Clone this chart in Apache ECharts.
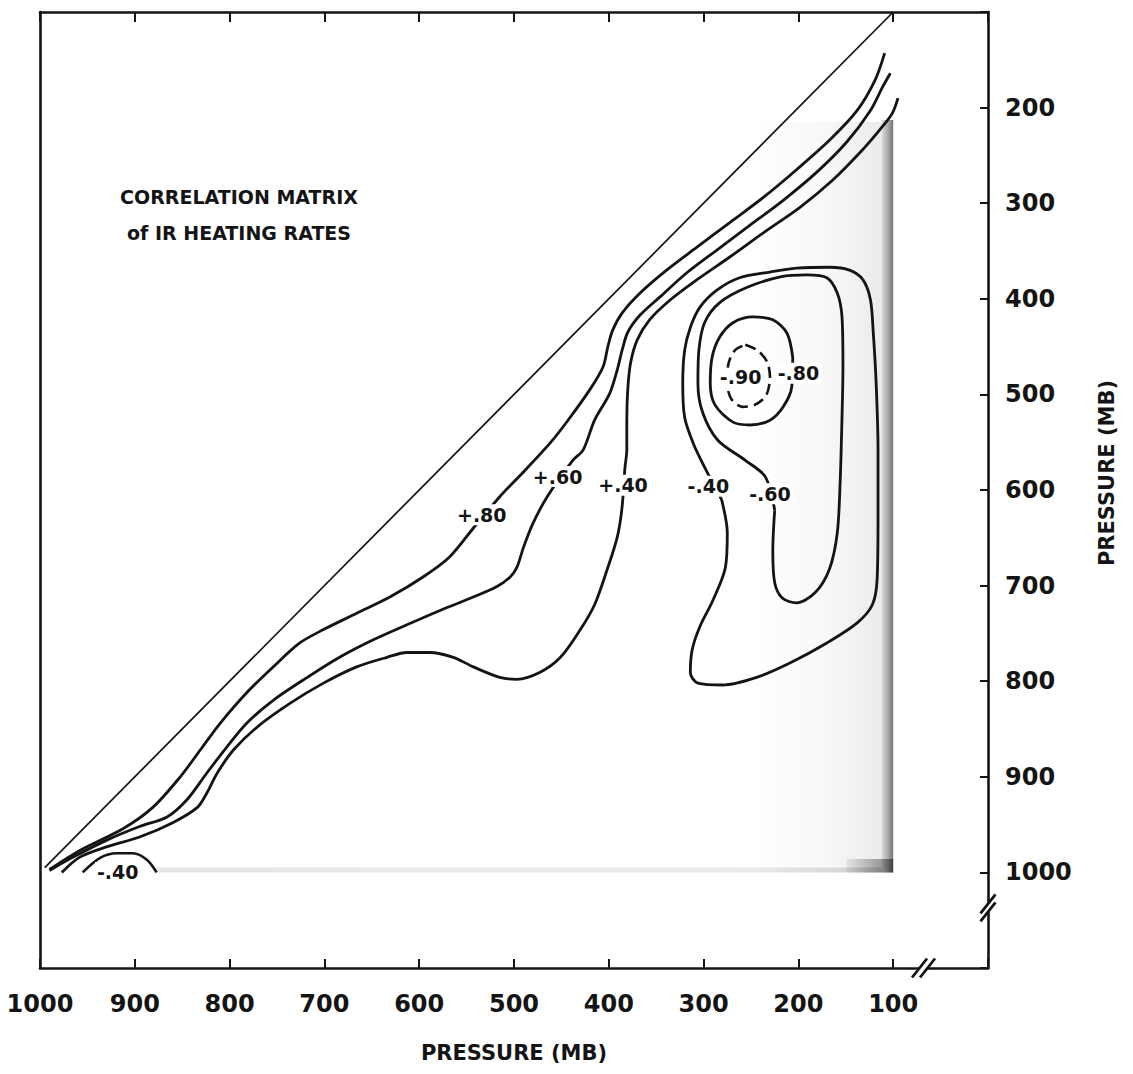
<!DOCTYPE html>
<html>
<head>
<meta charset="utf-8">
<script src="https://cdn.jsdelivr.net/npm/echarts/dist/echarts.min.js"></script>
<style>
  html, body { margin: 0; padding: 0; background: #ffffff; }
  #chart { width: 1133px; height: 1074px; }
</style>
</head>
<body>
<div id="chart"></div>
<script>
// ---------------- data (pressure in mb: [x, y]) ----------------
const xTickValues = [1000, 900, 800, 700, 600, 500, 400, 300, 200, 100];
const yTickValues = [200, 300, 400, 500, 600, 700, 800, 900, 1000];

const diagonal = [[995, 995], [100, 100]];

const plus80 = [[990,997],[958,977],[912,954],[881,932],[852,900],[831,872],[810,844],[782,812],[754,785],[726,760],[701,746],[666,729],[631,712],[596,691],[568,670],[543,640],[515,607],[488,579],[462,551],[443,527],[420,495],[406,471],[401,450],[396,433],[386,415],[367,394],[339,370],[307,346],[272,320],[237,294],[202,265],[167,234],[138,203],[119,171],[109,143]];

const plus60 = [[990,998],[965,984],[929,966],[895,952],[866,942],[845,924],[824,896],[803,869],[782,844],[754,820],[718,796],[684,775],[649,757],[613,741],[578,726],[543,712],[518,701],[504,691],[497,681],[490,660],[480,635],[465,607],[438,569],[427,558],[415,527],[399,499],[391,474],[386,454],[380,435],[367,417],[346,398],[318,373],[286,349],[251,323],[216,297],[180,267],[149,236],[124,203],[111,178],[103,164]];

const plus40 = [[977,1000],[958,984],[929,973],[895,963],[860,948],[834,932],[824,917],[813,896],[796,872],[771,848],[736,823],[701,802],[666,785],[634,775],[613,770],[589,770],[564,775],[543,785],[515,796],[497,798],[473,791],[451,775],[430,746],[415,720],[402,684],[391,649],[386,618],[383,577],[381,558],[381,527],[380,495],[377,467],[370,443],[357,422],[335,401],[307,380],[272,356],[237,331],[198,304],[164,276],[135,247],[114,223],[101,206],[95,190]];

const minus40 = [[281,610],[275,645],[277,681],[290,715],[304,743],[312,767],[314,791],[306,802],[280,804],[244,796],[209,781],[170,760],[138,739],[122,720],[117,694],[116,628],[116,558],[118,488],[121,436],[124,401],[132,380],[146,370],[167,367],[202,368],[230,372],[262,378],[286,391],[304,409],[314,430],[320,454],[322,488],[320,524],[311,551],[299,576],[281,610]];

const minus60 = [[225,621],[227,663],[225,697],[217,713],[202,718],[182,707],[167,682],[159,645],[156,593],[154,524],[153,471],[154,419],[159,394],[170,378],[191,375],[219,377],[254,388],[283,404],[299,425],[305,454],[306,488],[301,519],[285,548],[256,569],[235,586],[225,621]];

const minus80 = [[206,461],[212,436],[227,422],[248,419],[269,425],[283,440],[291,461],[293,488],[288,511],[269,529],[251,532],[230,527],[216,513],[207,492],[206,461]];

const minus90 = [[256,448],[243,454],[233,466],[230,482],[234,501],[246,511],[259,513],[270,506],[275,490],[274,469],[267,454],[256,448]];

const minus40Corner = [[955,1000],[937,985],[919,980],[902,980],[887,987],[877,1000]];

// [x, y, text]
const contourLabels = [
  [534, 626, '+.80'],
  [454, 586, '+.60'],
  [385, 595, '+.40'],
  [295, 596, '-.40'],
  [230, 604, '-.60'],
  [200, 478, '-.80'],
  [261, 482, '-.90'],
  [918, 1000, '-.40']
];

// axis break markers: [x, y, orientation 0 = on x axis, 1 = on y axis]
const axisBreaks = [[68, 1100, 0], [0, 1037, 1]];

// stippled shading areas: [xFrom, yFrom, xTo, yTo]
const shadeWide = [250, 215, 112, 1000];
const shadeBand = [112, 213, 100, 1000];
const shadeBottom = [880, 995, 112, 1000];
const shadeCorner = [150, 986, 100, 1000];

// ---------------- chart ----------------
const FONT = '"DejaVu Sans", "Noto Sans", sans-serif';
const INK = '#141414';

const chart = echarts.init(document.getElementById('chart'), null, { renderer: 'svg' });

function contour(name, data, width, dashed) {
  return {
    type: 'line', name: name, data: data, symbol: 'none', showSymbol: false,
    smooth: 0.3, silent: true, z: 4, animation: false,
    lineStyle: { color: INK, width: width, type: dashed ? [11, 6] : 'solid' }
  };
}

function grad(stops) {
  return { type: 'linear', x: 0, y: 0, x2: 1, y2: 0,
    colorStops: stops.map(s => ({ offset: s[0], color: s[1] })) };
}

function area(a, color) {
  return [{ xAxis: a[0], yAxis: a[1], itemStyle: { color: color } }, { xAxis: a[2], yAxis: a[3] }];
}

const axisLineStyle = { show: true, onZero: false, lineStyle: { color: INK, width: 2.6 } };

const option = {
  animation: false,
  backgroundColor: '#ffffff',
  grid: { left: 40, right: 145, top: 12, bottom: 106, containLabel: false },
  xAxis: [
    {
      type: 'value', min: 0, max: 1000, interval: 100, inverse: true, position: 'bottom',
      axisLine: axisLineStyle,
      axisTick: { show: true, inside: true, length: 9, lineStyle: { color: INK, width: 2 } },
      axisLabel: {
        margin: 24, color: INK, fontFamily: FONT, fontWeight: 'bold', fontSize: 24,
        formatter: v => (xTickValues.indexOf(v) >= 0 ? String(v) : '')
      },
      splitLine: { show: false },
      name: 'PRESSURE (MB)', nameLocation: 'middle', nameGap: 74,
      nameTextStyle: { color: INK, fontFamily: FONT, fontWeight: 'bold', fontSize: 21 }
    },
    {
      type: 'value', min: 0, max: 1000, interval: 100, inverse: true, position: 'top',
      axisLine: axisLineStyle,
      axisTick: { show: true, inside: true, length: 10, lineStyle: { color: INK, width: 2 } },
      axisLabel: { show: false }, splitLine: { show: false }
    }
  ],
  yAxis: [
    {
      type: 'value', min: 100, max: 1100, interval: 100, inverse: true, position: 'right',
      axisLine: axisLineStyle,
      axisTick: { show: true, inside: true, length: 8, lineStyle: { color: INK, width: 2 } },
      axisLabel: {
        margin: 17, color: INK, fontFamily: FONT, fontWeight: 'bold', fontSize: 24,
        formatter: v => (yTickValues.indexOf(v) >= 0 ? String(v) : '')
      },
      splitLine: { show: false },
      name: 'PRESSURE (MB)', nameLocation: 'middle', nameGap: 108, nameRotate: 90,
      nameTextStyle: { color: INK, fontFamily: FONT, fontWeight: 'bold', fontSize: 21, padding: [0, 0, 0, 34] }
    },
    {
      type: 'value', min: 100, max: 1100, interval: 100, inverse: true, position: 'left',
      axisLine: axisLineStyle, axisTick: { show: false }, axisLabel: { show: false },
      splitLine: { show: false }
    }
  ],
  graphic: [
    { type: 'text', x: 239, y: 197, silent: true,
      style: { text: 'CORRELATION MATRIX', fill: INK, font: 'bold 19px ' + FONT, align: 'center', verticalAlign: 'middle' } },
    { type: 'text', x: 239, y: 233, silent: true,
      style: { text: 'of IR HEATING RATES', fill: INK, font: 'bold 19px ' + FONT, align: 'center', verticalAlign: 'middle' } }
  ],
  series: [
    {
      type: 'line', name: 'shade', data: [[100, 1000]], symbol: 'none', z: 1, silent: true,
      lineStyle: { width: 0 },
      markArea: {
        silent: true,
        data: [
          area(shadeWide, grad([[0, 'rgba(0,0,0,0)'], [0.6, 'rgba(0,0,0,0.03)'], [1, 'rgba(0,0,0,0.08)']])),
          area(shadeBand, grad([[0, 'rgba(0,0,0,0.15)'], [0.5, 'rgba(0,0,0,0.32)'], [1, 'rgba(0,0,0,0.55)']])),
          area(shadeBottom, grad([[0, 'rgba(0,0,0,0.10)'], [0.8, 'rgba(0,0,0,0.08)'], [1, 'rgba(0,0,0,0.14)']])),
          area(shadeCorner, grad([[0, 'rgba(0,0,0,0.05)'], [1, 'rgba(0,0,0,0.45)']]))
        ]
      }
    },
    {
      type: 'line', name: 'diagonal', data: diagonal, symbol: 'none', silent: true, z: 4,
      lineStyle: { color: INK, width: 1.7 }
    },
    contour('+.80', plus80, 2.8),
    contour('+.60', plus60, 2.8),
    contour('+.40', plus40, 2.8),
    contour('-.40', minus40, 2.8),
    contour('-.60', minus60, 2.8),
    contour('-.80', minus80, 2.8),
    contour('-.90', minus90, 2.6, true),
    contour('-.40 corner', minus40Corner, 2.6),
    {
      type: 'custom', name: 'labels', coordinateSystem: 'cartesian2d', z: 10, silent: true,
      data: contourLabels.map(d => [d[0], d[1]]),
      renderItem: function (params, api) {
        const p = api.coord([api.value(0), api.value(1)]);
        const d = contourLabels[params.dataIndex];
        return {
          type: 'text', x: p[0], y: p[1],
          style: {
            text: d[2], fill: INK, font: 'bold 19px ' + FONT,
            align: 'center', verticalAlign: 'middle',
            backgroundColor: '#ffffff', padding: d[2] === '-.90' ? [0, 0] : [1, 2]
          }
        };
      }
    },
    {
      type: 'custom', name: 'breaks', coordinateSystem: 'cartesian2d', data: axisBreaks,
      clip: false, z: 20, silent: true,
      renderItem: function (params, api) {
        const p = api.coord([api.value(0), api.value(1)]);
        const horiz = api.value(2) === 0;
        const dx = 7.5, dy = -9.5;
        const off = horiz ? [4, 0] : [0, 4];
        const a1 = [p[0] - off[0] - dx, p[1] - off[1] - dy];
        const a2 = [p[0] - off[0] + dx, p[1] - off[1] + dy];
        const b1 = [p[0] + off[0] - dx, p[1] + off[1] - dy];
        const b2 = [p[0] + off[0] + dx, p[1] + off[1] + dy];
        const st = { stroke: INK, lineWidth: 2.8 };
        return {
          type: 'group',
          children: [
            { type: 'polygon', shape: { points: [a1, a2, b2, b1] }, style: { fill: '#ffffff' } },
            { type: 'line', shape: { x1: a1[0], y1: a1[1], x2: a2[0], y2: a2[1] }, style: st },
            { type: 'line', shape: { x1: b1[0], y1: b1[1], x2: b2[0], y2: b2[1] }, style: st }
          ]
        };
      }
    }
  ]
};

chart.setOption(option);
</script>
</body>
</html>
